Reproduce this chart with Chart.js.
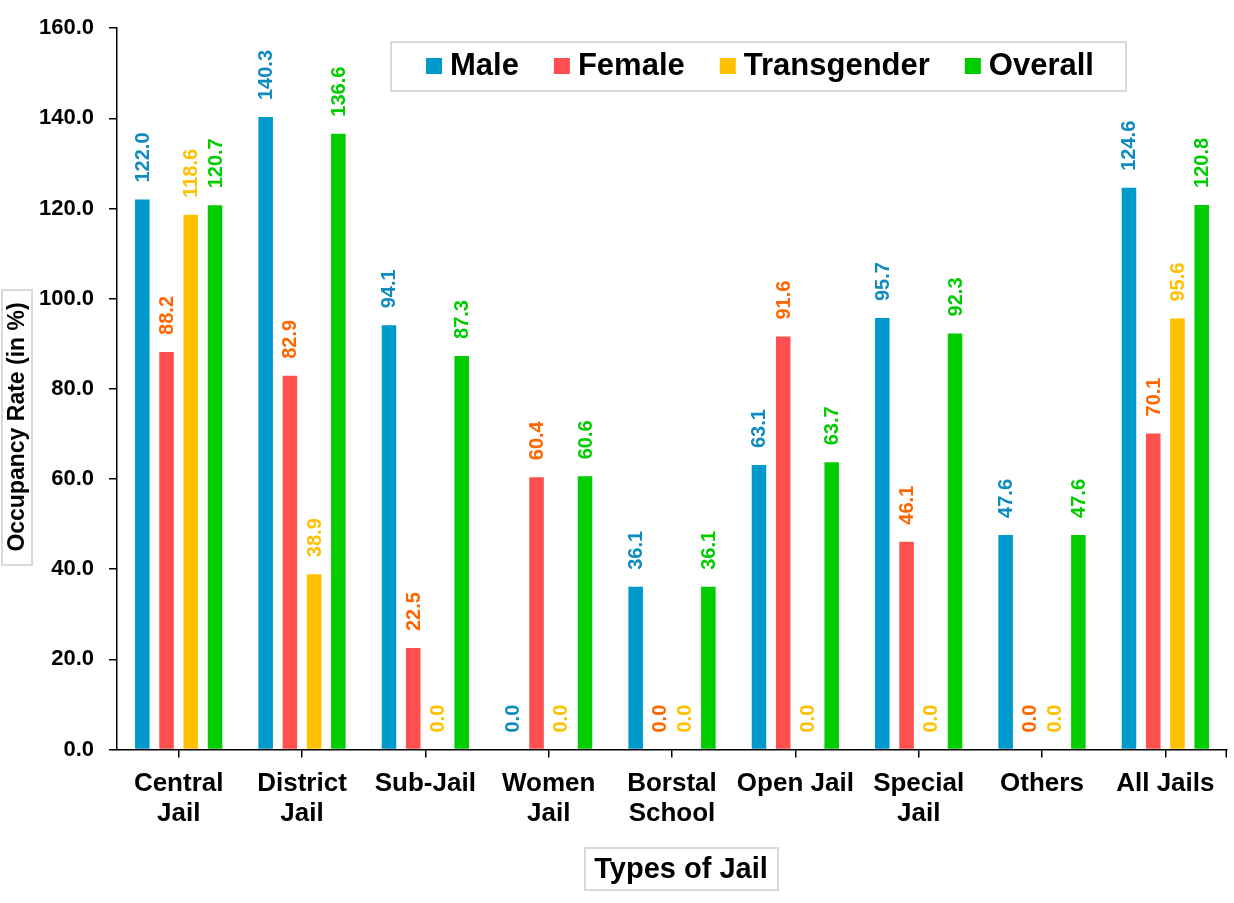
<!DOCTYPE html>
<html>
<head>
<meta charset="utf-8">
<script src="https://cdn.jsdelivr.net/npm/chart.js@4.4.1/dist/chart.umd.min.js"></script>
<style>
  html, body { margin: 0; padding: 0; background: #fff; }
  #wrap { width: 1234px; height: 903px; position: relative; }
</style>
</head>
<body>
<div id="wrap"><canvas id="occupancyChart"></canvas></div>
<script>
const categories = [['Central', 'Jail'], ['District', 'Jail'], 'Sub-Jail', ['Women', 'Jail'],
  ['Borstal', 'School'], 'Open Jail', ['Special', 'Jail'], 'Others', 'All Jails'];
const seriesNames = ['Male', 'Female', 'Transgender', 'Overall'];
const male = [122.0, 140.3, 94.1, 0.0, 36.1, 63.1, 95.7, 47.6, 124.6];
const female = [88.2, 82.9, 22.5, 60.4, 0.0, 91.6, 46.1, 0.0, 70.1];
const transgender = [118.6, 38.9, 0.0, 0.0, 0.0, 0.0, 0.0, 0.0, 95.6];
const overall = [120.7, 136.6, 87.3, 60.6, 36.1, 63.7, 92.3, 47.6, 120.8];
const yMin = 0, yMax = 160, yStep = 20;

const FONT = '"Liberation Sans", Arial, sans-serif';
const barColors = ['#0099CC', '#FF5050', '#FFC000', '#00CC00'];
const labelColors = ['#0E8CC0', '#FF6600', '#FFC000', '#00CC00'];

// rotated value labels above each bar
const valueLabels = {
  id: 'valueLabels',
  afterDatasetsDraw(chart) {
    const ctx = chart.ctx;
    chart.data.datasets.forEach((ds, i) => {
      chart.getDatasetMeta(i).data.forEach((bar, j) => {
        ctx.save();
        ctx.translate(bar.x + 1, bar.y - 17);
        ctx.rotate(-Math.PI / 2);
        ctx.font = 'bold 20px ' + FONT;
        ctx.fillStyle = labelColors[i];
        ctx.textAlign = 'left';
        ctx.textBaseline = 'middle';
        ctx.fillText(ds.data[j].toFixed(1), 0, 0);
        ctx.restore();
      });
    });
  }
};

// boxed legend, boxed axis titles, closing tick at the end of the x axis
const frames = {
  id: 'frames',
  afterDraw(chart) {
    const ctx = chart.ctx;
    const area = chart.chartArea;
    ctx.save();

    ctx.strokeStyle = '#000';
    ctx.lineWidth = 1.5;
    ctx.beginPath();
    ctx.moveTo(area.right - 0.75, area.bottom);
    ctx.lineTo(area.right - 0.75, area.bottom + 8);
    ctx.stroke();

    ctx.strokeStyle = '#D9D9D9';
    ctx.lineWidth = 2;
    ctx.strokeRect(391, 42, 735, 49);
    ctx.font = 'bold 31px ' + FONT;
    ctx.textBaseline = 'middle';
    ctx.textAlign = 'left';
    let x = 426;
    chart.data.datasets.forEach((ds, i) => {
      ctx.fillStyle = ds.backgroundColor;
      ctx.fillRect(x, 58, 16, 16);
      ctx.fillStyle = '#000';
      ctx.fillText(ds.label, x + 24, 66);
      x += 24 + ctx.measureText(ds.label).width + 35;
    });

    ctx.strokeStyle = '#D9D9D9';
    ctx.strokeRect(2, 290, 30, 275);
    ctx.save();
    ctx.translate(18, 427);
    ctx.rotate(-Math.PI / 2);
    ctx.font = 'bold 23px ' + FONT;
    ctx.fillStyle = '#000';
    ctx.textAlign = 'center';
    ctx.fillText('Occupancy Rate (in %)', 0, 0);
    ctx.restore();

    ctx.strokeRect(585, 848, 193, 42);
    ctx.font = 'bold 29px ' + FONT;
    ctx.fillStyle = '#000';
    ctx.textAlign = 'center';
    ctx.fillText('Types of Jail', 681, 870);

    ctx.restore();
  }
};

const seriesData = [male, female, transgender, overall];

new Chart(document.getElementById('occupancyChart'), {
  type: 'bar',
  data: {
    labels: categories,
    datasets: seriesNames.map((name, i) => ({
      label: name,
      data: seriesData[i],
      backgroundColor: barColors[i],
      categoryPercentage: 0.786,
      barPercentage: 0.6
    }))
  },
  options: {
    responsive: true,
    maintainAspectRatio: false,
    devicePixelRatio: 1,
    animation: false,
    layout: { padding: { top: 27.5, right: 7, left: 0, bottom: 0 } },
    plugins: {
      legend: { display: false },
      tooltip: { enabled: false }
    },
    scales: {
      x: {
        afterFit(scale) { scale.height = 153.5; },
        grid: { offset: false, drawOnChartArea: false, color: '#000', lineWidth: 1.5, tickLength: 8 },
        border: { display: true, color: '#000', width: 1.5 },
        ticks: {
          color: '#000',
          padding: 11,
          maxRotation: 0,
          autoSkip: false,
          font: { family: FONT, size: 26, weight: 'bold', lineHeight: 1.15 }
        }
      },
      y: {
        min: yMin,
        max: yMax,
        afterFit(scale) { scale.width = 117; },
        grid: { drawOnChartArea: false, color: '#000', lineWidth: 1.5, tickLength: 8 },
        border: { display: true, color: '#000', width: 1.5 },
        ticks: {
          stepSize: yStep,
          color: '#000',
          padding: 15,
          font: { family: FONT, size: 22, weight: 'bold' },
          callback: v => v.toFixed(1)
        }
      }
    }
  },
  plugins: [valueLabels, frames]
});
</script>
</body>
</html>
